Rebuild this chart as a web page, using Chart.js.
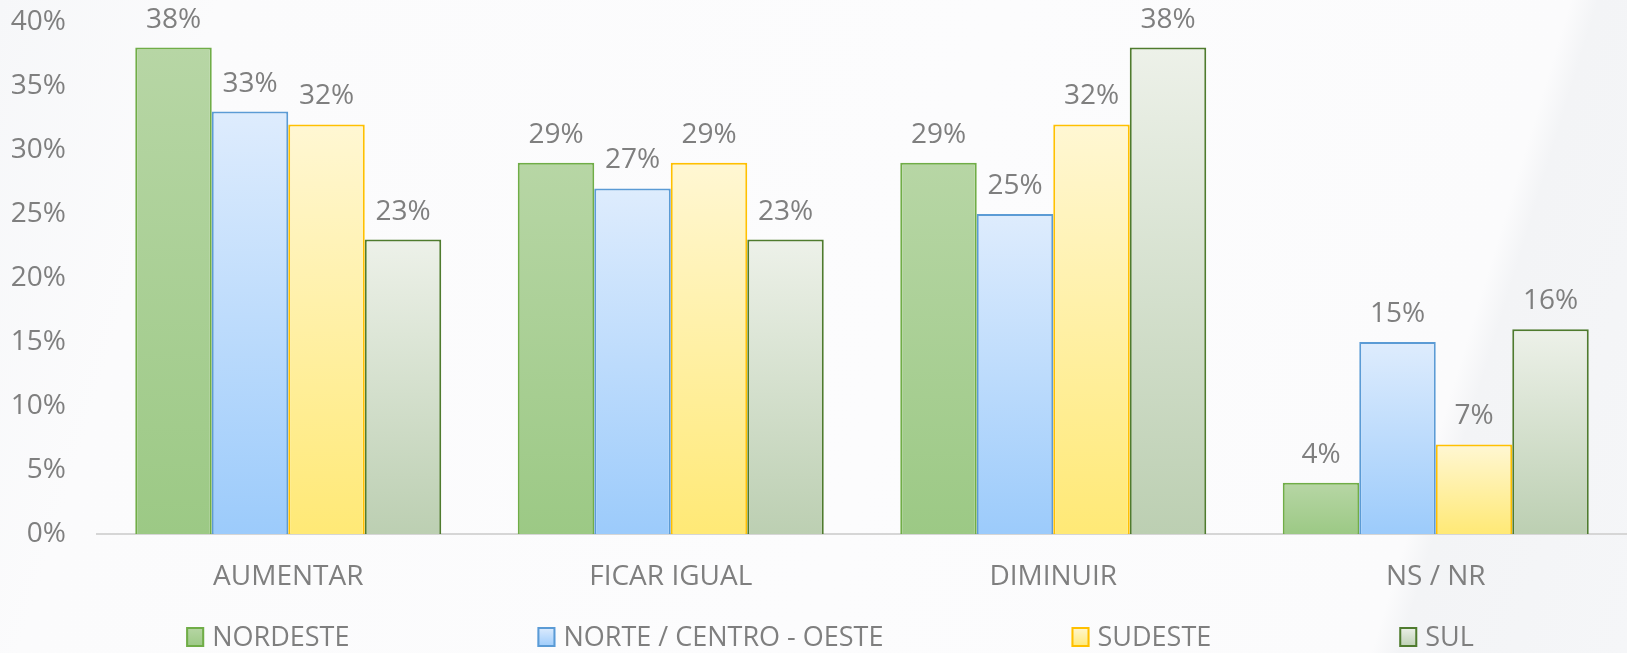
<!DOCTYPE html>
<html>
<head>
<meta charset="utf-8">
<script src="https://cdn.jsdelivr.net/npm/chart.js@4/dist/chart.umd.min.js"></script>
<style>
  html, body { margin: 0; padding: 0; }
  body {
    width: 1627px; height: 653px; overflow: hidden;
    background: linear-gradient(107deg, #f6f7f9 0%, #fbfbfc 12%, #fcfcfd 55%, #fbfbfc 86%, #f3f4f6 87.5%, #f5f6f8 100%);
  }
  #wrap { position: relative; width: 1627px; height: 653px; }
</style>
</head>
<body>
<div id="wrap"><canvas id="c"></canvas></div>
<script>
// ---- data ----
const categories = ['AUMENTAR', 'FICAR IGUAL', 'DIMINUIR', 'NS / NR'];
const seriesNames = ['NORDESTE', 'NORTE / CENTRO - OESTE', 'SUDESTE', 'SUL'];
const nordeste = [38, 29, 29, 4];
const norteCentroOeste = [33, 27, 25, 15];
const sudeste = [32, 29, 32, 7];
const sul = [23, 23, 38, 16];
const yTicks = [0, 5, 10, 15, 20, 25, 30, 35, 40];

// ---- styles ----
const FONT = "'Open Sans', 'Noto Sans', sans-serif";
const TEXT = '#7f7f7f';
const palette = [
  { top: '#b7d6a5', bottom: '#9cc985', border: '#70ad47' },
  { top: '#deecfd', bottom: '#9ccbfb', border: '#5b9bd5' },
  { top: '#fff7d3', bottom: '#ffe976', border: '#ffc000' },
  { top: '#edf1e9', bottom: '#bccfb2', border: '#4f7b2e' }
];

function barGradient(i) {
  return function (ctx) {
    const p = palette[i];
    if (ctx.type !== 'data') return p.top;
    const chart = ctx.chart;
    const ys = chart.scales && chart.scales.y;
    if (!ys || !chart.chartArea) return p.top;
    const top = ys.getPixelForValue(ctx.raw);
    const base = ys.getPixelForValue(0);
    if (!isFinite(top) || !isFinite(base) || top === base) return p.top;
    const g = chart.ctx.createLinearGradient(0, top, 0, base);
    g.addColorStop(0, p.top);
    g.addColorStop(1, p.bottom);
    return g;
  };
}

const seriesValues = [nordeste, norteCentroOeste, sudeste, sul];
const datasets = seriesNames.map((name, i) => ({
  label: name,
  data: seriesValues[i],
  backgroundColor: barGradient(i),
  borderColor: palette[i].border,
  borderWidth: 2,
  borderSkipped: 'bottom',
  barPercentage: 1.0,
  categoryPercentage: 0.8
}));

const valueLabels = {
  id: 'valueLabels',
  afterDatasetsDraw(chart) {
    const ctx = chart.ctx;
    ctx.save();
    ctx.font = '28px ' + FONT;
    ctx.fillStyle = TEXT;
    ctx.textAlign = 'center';
    ctx.textBaseline = 'middle';
    chart.data.datasets.forEach((ds, di) => {
      const meta = chart.getDatasetMeta(di);
      meta.data.forEach((el, j) => {
        ctx.fillText(ds.data[j] + '%', el.x, el.y - 28);
      });
    });
    ctx.restore();
  }
};

const customLegend = {
  id: 'customLegend',
  afterDraw(chart) {
    const ctx = chart.ctx;
    ctx.save();
    ctx.font = '27px ' + FONT;
    ctx.textBaseline = 'middle';
    ctx.textAlign = 'left';
    const boxW = 18, boxH = 20, gap = 8, spacing = 188;
    const names = chart.data.datasets.map(d => d.label);
    const widths = names.map(n => boxW + gap + ctx.measureText(n).width);
    const total = widths.reduce((a, b) => a + b, 0) + spacing * (names.length - 1);
    let x = 830 - total / 2;
    const cy = 637;
    names.forEach((n, i) => {
      const p = palette[i];
      const by = cy - boxH / 2;
      const g = ctx.createLinearGradient(0, by, 0, by + boxH);
      g.addColorStop(0, p.top);
      g.addColorStop(1, p.bottom);
      ctx.fillStyle = g;
      ctx.fillRect(x, by, boxW, boxH);
      ctx.strokeStyle = p.border;
      ctx.lineWidth = 2;
      ctx.strokeRect(x + 1, by + 1, boxW - 2, boxH - 2);
      ctx.fillStyle = TEXT;
      ctx.fillText(n, x + boxW + gap, cy + 1);
      x += widths[i] + spacing;
    });
    ctx.restore();
  }
};

new Chart(document.getElementById('c'), {
  type: 'bar',
  data: { labels: categories, datasets },
  options: {
    responsive: true,
    maintainAspectRatio: false,
    animation: false,
    layout: { padding: { top: 22, left: 0, right: 0, bottom: 59 } },
    plugins: {
      legend: { display: false },
      tooltip: { enabled: false }
    },
    scales: {
      x: {
        afterFit(scale) { scale.height = 60; scale.paddingLeft = 0; scale.paddingRight = 0; },
        grid: { display: false, drawTicks: false },
        border: { display: true, color: '#d6d6d6', width: 2 },
        ticks: { color: TEXT, font: { family: FONT, size: 28 }, padding: 26, maxRotation: 0 }
      },
      y: {
        min: 0,
        max: 40,
        afterBuildTicks(scale) { scale.ticks = yTicks.map(v => ({ value: v })); },
        afterFit(scale) { scale.width = 97; scale.paddingTop = 0; scale.paddingBottom = 0; },
        grid: { display: false, drawTicks: false },
        border: { display: false },
        ticks: {
          color: TEXT,
          font: { family: FONT, size: 28 },
          padding: 31,
          callback: v => v + '%'
        }
      }
    }
  },
  plugins: [valueLabels, customLegend]
});
</script>
</body>
</html>
